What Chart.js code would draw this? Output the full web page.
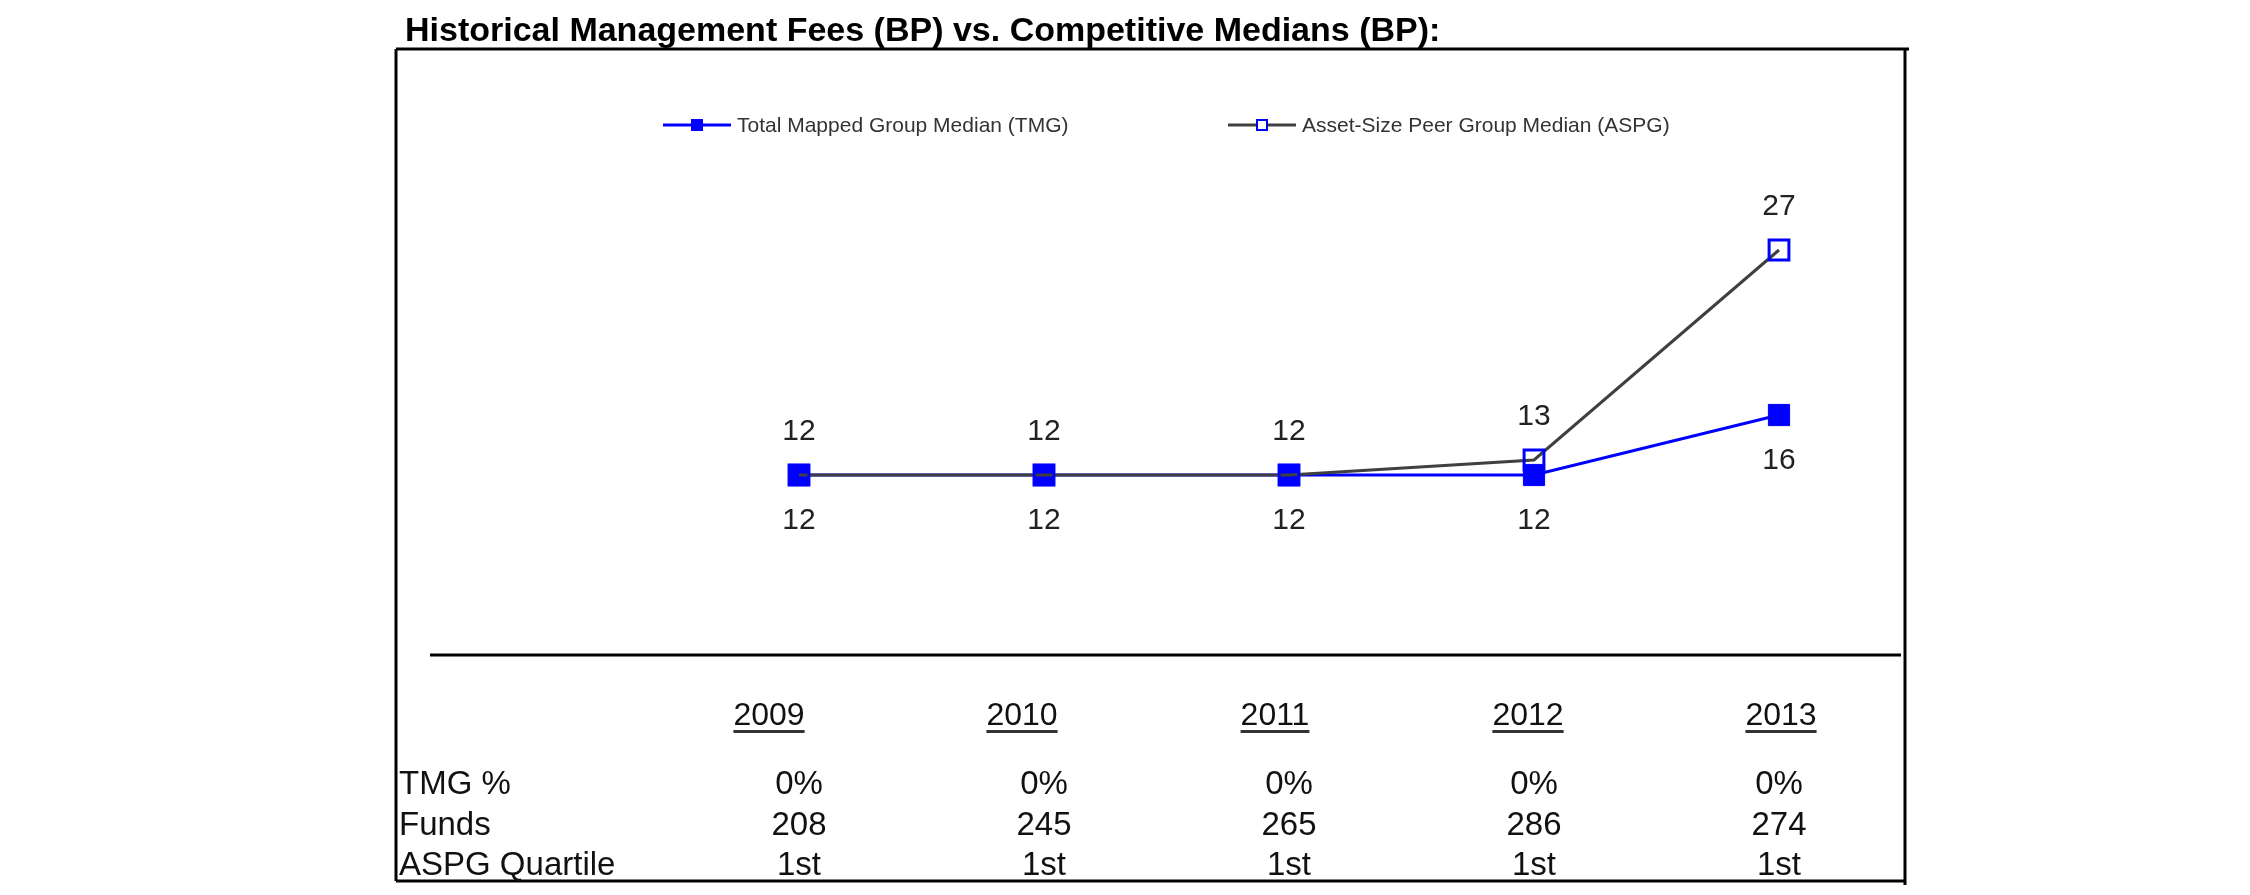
<!DOCTYPE html>
<html>
<head>
<meta charset="utf-8">
<script src="https://cdn.jsdelivr.net/npm/chart.js@4.4.1/dist/chart.umd.min.js"></script>
<style>
  html, body { margin: 0; padding: 0; background: #fff; }
  #wrap { width: 2250px; height: 895px; position: relative; }
</style>
</head>
<body>
<div id="wrap"><canvas id="feesChart" width="2250" height="895"></canvas></div>
<script>
const TITLE = 'Historical Management Fees (BP) vs. Competitive Medians (BP):';
const years = ['2009', '2010', '2011', '2012', '2013'];
const tmgMedian = [12, 12, 12, 12, 16];
const aspgMedian = [12, 12, 12, 13, 27];
const seriesNames = ['Total Mapped Group Median (TMG)', 'Asset-Size Peer Group Median (ASPG)'];
const rowLabels = ['TMG %', 'Funds', 'ASPG Quartile'];
const tmgPct = ['0%', '0%', '0%', '0%', '0%'];
const funds = ['208', '245', '265', '286', '274'];
const aspgQuartile = ['1st', '1st', '1st', '1st', '1st'];

const FONT = '"Liberation Sans", Arial, sans-serif';
const BLUE = '#0000ff';
const GREY = '#404040';

// everything that is not a line/point: frame, title, legend, labels, table
const decorPlugin = {
    id: 'decor',
    afterDraw(chart) {
        const ctx = chart.ctx;
        const x = chart.scales.x;
        const y = chart.scales.y;
        ctx.save();

        // outer frame
        ctx.strokeStyle = '#000';
        ctx.lineWidth = 3;
        ctx.beginPath();
        ctx.moveTo(396, 49); ctx.lineTo(1909, 49);
        ctx.moveTo(396, 49); ctx.lineTo(396, 881);
        ctx.moveTo(396, 881); ctx.lineTo(1905, 881);
        ctx.moveTo(1905, 49); ctx.lineTo(1905, 885);
        ctx.stroke();

        // title
        ctx.fillStyle = '#000';
        ctx.font = 'bold 34px ' + FONT;
        ctx.textAlign = 'left';
        ctx.textBaseline = 'alphabetic';
        ctx.fillText(TITLE, 405, 41);

        // legend
        const legY = 125;
        const legItems = [
            { x0: 663, color: BLUE, fill: BLUE },
            { x0: 1228, color: GREY, fill: '#fff' }
        ];
        ctx.font = '21px ' + FONT;
        ctx.textBaseline = 'middle';
        legItems.forEach((it, i) => {
            ctx.strokeStyle = it.color;
            ctx.lineWidth = 3;
            ctx.beginPath();
            ctx.moveTo(it.x0, legY); ctx.lineTo(it.x0 + 68, legY);
            ctx.stroke();
            ctx.fillStyle = it.fill;
            ctx.fillRect(it.x0 + 29, legY - 5, 10, 10);
            ctx.strokeStyle = BLUE;
            ctx.lineWidth = 2;
            ctx.strokeRect(it.x0 + 29, legY - 5, 10, 10);
            ctx.fillStyle = '#333';
            ctx.fillText(seriesNames[i], it.x0 + 74, legY + 1);
        });

        // value labels
        ctx.font = '30px ' + FONT;
        ctx.fillStyle = '#222';
        ctx.textAlign = 'center';
        ctx.textBaseline = 'middle';
        chart.getDatasetMeta(0).data.forEach((pt, i) => {
            ctx.fillText(String(tmgMedian[i]), pt.x, pt.y + 46);
        });
        chart.getDatasetMeta(1).data.forEach((pt, i) => {
            ctx.fillText(String(aspgMedian[i]), pt.x, pt.y - 43);
        });

        // baseline rule at zero
        const y0 = y.getPixelForValue(0);
        ctx.strokeStyle = '#000';
        ctx.lineWidth = 3;
        ctx.beginPath();
        ctx.moveTo(430, y0); ctx.lineTo(1901, y0);
        ctx.stroke();

        // table under the chart
        ctx.fillStyle = '#111';
        ctx.textBaseline = 'alphabetic';
        ctx.font = '32px ' + FONT;
        years.forEach((yr, i) => {
            const cx = x.getPixelForValue(i) - 30 + i * 8;
            ctx.textAlign = 'center';
            ctx.fillText(yr, cx, 725);
            const w = ctx.measureText(yr).width;
            ctx.fillStyle = '#333';
            ctx.fillRect(cx - w / 2, 730, w, 3);
            ctx.fillStyle = '#111';
        });

        ctx.font = '33px ' + FONT;
        const rows = [tmgPct, funds, aspgQuartile];
        const rowBase = [794, 835, 875];
        rows.forEach((row, r) => {
            ctx.textAlign = 'left';
            ctx.fillText(rowLabels[r], 399, rowBase[r]);
            ctx.textAlign = 'center';
            row.forEach((v, i) => {
                ctx.fillText(v, x.getPixelForValue(i), rowBase[r]);
            });
        });

        ctx.restore();
    }
};

new Chart(document.getElementById('feesChart'), {
    type: 'line',
    data: {
        labels: years,
        datasets: [
            {
                label: seriesNames[0],
                data: tmgMedian,
                borderColor: BLUE,
                borderWidth: 3,
                pointStyle: 'rect',
                pointRadius: 15,
                pointBackgroundColor: BLUE,
                pointBorderColor: BLUE,
                pointBorderWidth: 1,
                tension: 0,
                order: 1
            },
            {
                label: seriesNames[1],
                data: aspgMedian,
                borderColor: GREY,
                borderWidth: 3,
                pointStyle: 'rect',
                pointRadius: 14,
                pointBackgroundColor: 'rgba(255,255,255,0)',
                pointBorderColor: BLUE,
                pointBorderWidth: 3,
                tension: 0,
                order: 0
            }
        ]
    },
    options: {
        responsive: false,
        animation: false,
        devicePixelRatio: 1,
        layout: {
            padding: { left: 799, right: 471, top: 205, bottom: 240 }
        },
        scales: {
            x: { display: false, offset: false },
            y: { display: false, min: 0, max: 30 }
        },
        plugins: {
            legend: { display: false },
            tooltip: { enabled: false },
            title: { display: false }
        }
    },
    plugins: [decorPlugin]
});
</script>
</body>
</html>
